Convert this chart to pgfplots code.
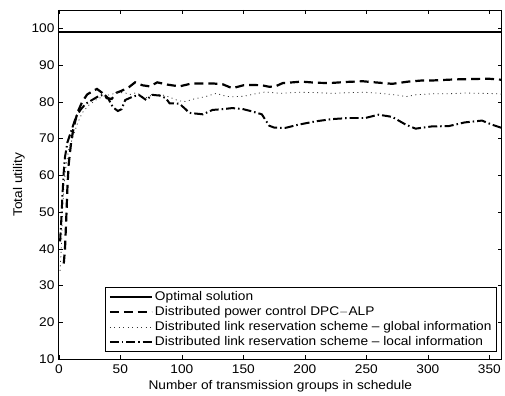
\documentclass[border=0pt]{standalone}
\usepackage{fontspec}
\setmainfont{Liberation Sans}[FakeStretch=1.09]
\usepackage{pgfplots}
\pgfplotsset{compat=1.18}
\begin{document}
\fontsize{12.6bp}{15bp}\selectfont
\begin{tikzpicture}
\begin{axis}[
  scale only axis,
  width=444bp, height=350bp,
  xmin=0, xmax=360, ymin=10, ymax=105,
  xtick={0,50,...,350}, ytick={10,20,...,100},
  tick align=inside, major tick length=4bp,
  every tick/.style={black, line width=0.6bp},
  axis line style={line width=0.8bp},
  /pgf/number format/assume math mode=true,
  xticklabel style={yshift=-1bp},
  xlabel={Number of transmission groups in schedule},
  ylabel={Total utility},
  xlabel style={at={(axis description cs:0.5,-0.077)}, anchor=center},
  ylabel style={at={(axis description cs:-0.09,0.5)}, anchor=center},
  legend cell align=left,
  legend style={at={(rel axis cs:0.99,0.02)}, anchor=south east,
    draw=black, line width=1.1bp, inner xsep=3bp, inner ysep=2bp,
    row sep=-0.5bp,
    nodes={inner sep=2.2bp, line width=0.8bp}},
  legend image code/.code={\draw[#1] (0bp,0bp) -- (42bp,0bp);},
]
\addplot[black, line width=2.2bp] coordinates {(0,99) (360,99)};
\addlegendentry{Optimal solution}

\addplot[black, line width=2.2bp, dash pattern=on 9bp off 5bp] coordinates {
(4,36) (5,40) (6,48) (7,57) (8,63) (10,69) (12,73) (15,77) (19,80) (23,82)
(28,83) (31,83.5) (35,82.5) (39,81) (43,80.8) (47,82.5) (51,83) (57,84)
(62,85.3) (68,84.5) (74,84.2) (80,85.3) (88,84.7) (98,84.2) (108,85) (117,85)
(125,85) (133,84.8) (141,83.7) (150,84.5) (157,84.6) (165,84.5) (171,84.1)
(176,84.2) (182,85.1) (190,85.3) (197,85.5) (209,85.2) (220,85.1) (233,85.4)
(247,85.6) (257,85.3) (271,84.9) (284,85.5) (295,85.8) (303,85.8) (322,86.1)
(336,86.2) (349,86.3) (360,86)};
\addlegendentry{Distributed power control DPC$-$ALP}

\addplot[black!80, line width=0.8bp, dash pattern=on 1bp off 3.5bp] coordinates {
(1,34) (2,40) (3,50) (4,57) (6,63) (8,67) (11,70) (15,74) (19,77) (24,79)
(30,80.5) (36,81.5) (42,82) (48,82.5) (53,82.5) (58,82) (63,82.5) (70,81)
(77,82) (83,82) (90,81.3) (97,80.3) (103,80.1) (110,80.8) (119,81.4)
(128,82.3) (136,81.5) (141,81.4) (150,81.5) (160,82.2) (168,82.7) (180,82.3)
(195,82.6) (210,82.5) (222,82.3) (236,82.5) (249,82.6) (262,82.3) (276,81.8)
(282,81.4) (290,81.9) (303,82.2) (317,82.2) (330,82.4) (345,82.3) (357,82.2)
(360,82.1)};
\addlegendentry{Distributed link reservation scheme -- global information}

\addplot[black, line width=2bp, dash pattern=on 9bp off 3bp on 1.5bp off 3bp] coordinates {
(1,42) (2,48) (3,55) (4,61) (5,65) (7,69) (10,72) (14,76) (18,78) (22,79.5)
(27,80.5) (32,81.5) (37,82) (40,81) (44,78.5) (48,77.5) (51,78) (54,80.5)
(60,81.4) (65,81.9) (71,80.5) (76,81.9) (82,81.7) (87,81) (90,79.6) (98,79.5)
(103,78) (106,77) (117,76.6) (125,77.8) (133,78) (141,78.3) (150,78)
(157,77.4) (165,76.6) (171,73.5) (175,73) (184,72.9) (195,73.8) (209,74.7)
(222,75.3) (236,75.6) (249,75.6) (260,76.5) (271,75.9) (282,73.8) (290,72.7)
(303,73.3) (317,73.4) (330,74.4) (344,74.9) (352,73.8) (360,72.9)};
\addlegendentry{Distributed link reservation scheme -- local information}
\end{axis}
\path ([xshift=-59bp,yshift=-36bp]current axis.south west) rectangle ([xshift=1.5bp,yshift=10bp]current axis.north east);
\end{tikzpicture}
\end{document}
